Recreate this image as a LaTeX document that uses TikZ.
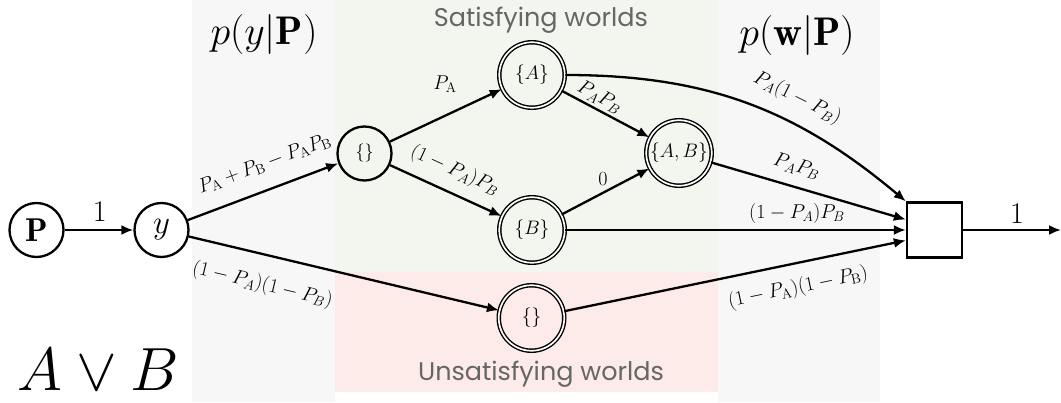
\RequirePackage{fix-cm}
\documentclass[tikz,border=0pt]{standalone}
\usepackage{fontspec}
\newfontfamily\regionfont{Poppins}
\usetikzlibrary{arrows.meta}
\definecolor{bggray}{HTML}{F7F7F7}
\definecolor{bggreen}{HTML}{F3F6EE}
\definecolor{bgred}{HTML}{FDEBE9}
\definecolor{txtgray}{HTML}{666666}
\begin{document}
\begin{tikzpicture}[x=1pt,y=1pt,
  edge/.style={line width=2.3pt, -{Latex[length=12pt,width=10pt]}},
  plain/.style={circle, draw, line width=2.3pt, minimum size=54pt, inner sep=0pt},
  world/.style={circle, draw, double, double distance=1.7pt, line width=1.4pt, minimum size=65.5pt, inner sep=0pt, font=\fontsize{19.5}{22}\selectfont},
  lab/.style={font=\fontsize{20}{24}\selectfont, inner sep=0pt, anchor=center},
  big/.style={font=\fontsize{40}{44}\selectfont, inner sep=0pt},
  region/.style={font=\regionfont\fontsize{25.5}{28}\selectfont, text=txtgray, inner sep=0pt}
]
\useasboundingbox (0,0) rectangle (1061,402);
\fill[bggray] (192,0) rectangle (335,402);
\fill[bggray] (718,0) rectangle (880,402);
\fill[bggreen] (335,130) rectangle (718,402);
\fill[bgred] (335,10) rectangle (718,130);

\node[plain, font=\fontsize{33}{36}\selectfont] (P) at (36.5,172) {$\mathbf{P}$};
\node[plain, font=\fontsize{33}{36}\selectfont] (y) at (161.5,172) {$y$};
\node[plain, font=\fontsize{18}{20}\selectfont] (s0) at (364.5,248.5) {$\{\}$};
\node[world] (A) at (532,327) {$\{A\}$};
\node[world] (B) at (532,172) {$\{B\}$};
\node[world] (AB) at (679,249) {$\{A,B\}$};
\node[world] (U) at (531.5,84) {$\{\}$};
\node[draw, line width=2.3pt, minimum size=55pt, inner sep=0pt] (sq) at (934.5,172) {};
\coordinate (out) at (1061,172);

\node[big] (py) at (264,367) {$p(y|\mathbf{P})$};
\node[big] (pw) at (797,366) {$p(\mathbf{w}|\mathbf{P})$};
\node[region] (sat) at (541,382) {Satisfying worlds};
\node[region] (unsat) at (541,28) {Unsatisfying worlds};
\node[font=\fontsize{61}{64}\selectfont, inner sep=0pt] (f) at (98.5,32) {$A\vee B$};

\draw[edge] (P) -- node[lab, pos=0.51, yshift=18pt, font=\fontsize{30}{32}\selectfont] {$1$} (y);
\draw[edge] (y) -- node[lab, sloped, pos=0.57, yshift=25.6pt] {$P_{\mathrm{A}}+P_{\mathrm{B}}-P_{\mathrm{A}}P_{\mathrm{B}}$} (s0);
\draw[edge] (y) -- node[lab, sloped, pos=0.26, yshift=-30pt] {$(1-P_A)(1-P_B)$} (U);
\draw[edge] (s0) -- node[lab, pos=0.6, xshift=-12pt, yshift=26pt] {$P_{\mathrm{A}}$} (A);
\draw[edge] (s0) -- node[lab, sloped, pos=0.5, yshift=22pt] {$(1-P_A)P_B$} (B);
\draw[edge] (A) -- node[lab, sloped, pos=0.37, yshift=12pt] {$P_AP_B$} (AB);
\draw[edge] (B) -- node[lab, pos=0.54, xshift=-6pt, yshift=11pt] {$0$} (AB);
\draw[edge] (A) to[out=0, in=140] node[lab, sloped, pos=0.62, yshift=25pt] {$P_A(1-P_B)$} (sq.north west);
\draw[edge] (AB) -- node[lab, sloped, pos=0.41, yshift=20.5pt] {$P_AP_B$} (sq.160);
\draw[edge] (B) -- node[lab, pos=0.68, yshift=16pt] {$(1-P_A)P_B$} (sq.west);
\draw[edge] (U) -- node[lab, sloped, pos=0.67, yshift=-24.6pt] {$(1-P_{\mathrm{A}})(1-P_{\mathrm{B}})$} (sq.200);
\draw[edge] (sq) -- node[lab, pos=0.55, yshift=16.5pt, font=\fontsize{30}{32}\selectfont] {$1$} (out);
\end{tikzpicture}
\end{document}
